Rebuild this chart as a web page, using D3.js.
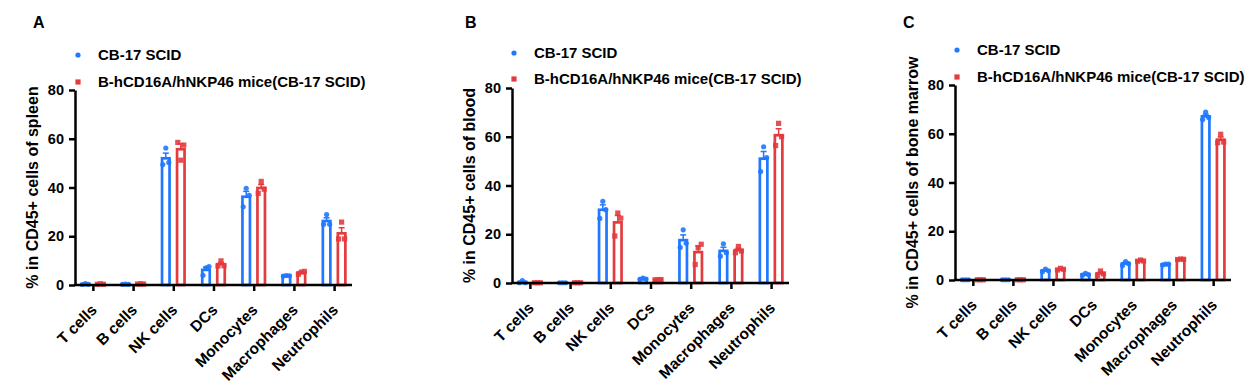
<!DOCTYPE html>
<html>
<head>
<meta charset="utf-8">
<script src="https://cdn.jsdelivr.net/npm/d3@7"></script>
<style>
  body { margin: 0; background: #fff; }
  svg text { font-family: Arial, "Liberation Sans", sans-serif; font-weight: bold; fill: #000; }
</style>
</head>
<body>
<div id="chart"></div>
<script>
var width = 1259
var height = 387

var categories = ["T cells", "B cells", "NK cells", "DCs", "Monocytes", "Macrophages", "Neutrophils"]
var groups = ["CB-17 SCID", "B-hCD16A/hNKP46 mice(CB-17 SCID)"]
var panelLetters = ["A", "B", "C"]
var yTitles = ["% in CD45+ cells of spleen", "% in CD45+ cells of blood", "% in CD45+ cells of bone marrow"]
var yTicks = [0, 20, 40, 60, 80]

// three mice per group, per cell type
var spleenScid = [[0.2, 0.6, 0.3], [0.3, 0.4, 0.3], [49.4, 56.2, 50.3], [4.0, 7.0, 7.6], [32.1, 39.7, 36.8], [3.7, 3.9, 3.8], [24.9, 28.9, 24.9]]
var spleenHum = [[0.3, 0.5, 0.3], [0.4, 0.5, 0.4], [58.5, 51.2, 57.4], [7.8, 9.9, 7.9], [37.6, 42.5, 39.3], [4.4, 5.3, 5.6], [18.9, 25.8, 18.9]]
var bloodScid = [[0.1, 1.0, 0.1], [0.1, 0.1, 0.1], [26.5, 33.5, 30.1], [1.5, 2.0, 1.6], [14.6, 21.8, 16.3], [11.0, 16.1, 12.4], [45.7, 55.9, 51.4]]
var bloodHum = [[0.1, 0.1, 0.1], [0.1, 0.1, 0.1], [19.3, 28.7, 26.6], [1.3, 1.4, 1.4], [7.6, 14.5, 15.9], [12.4, 15.0, 13.1], [56.4, 65.5, 60.0]]
var marrowScid = [[0.1, 0.1, 0.1], [0.1, 0.1, 0.1], [3.4, 4.5, 3.8], [2.0, 2.7, 2.2], [6.0, 7.6, 6.7], [6.2, 6.5, 6.5], [65.8, 68.9, 66.7]]
var marrowHum = [[0.1, 0.1, 0.1], [0.1, 0.1, 0.1], [4.1, 4.8, 4.4], [1.9, 3.7, 2.5], [7.7, 8.2, 7.8], [8.4, 8.6, 8.5], [56.3, 59.8, 56.6]]

var BLUE = "#1f78ff"
var RED = "#e33b3e"

// where each panel sits on the page
var layout = [
    {ax: 75,  top: 90, bottom: 285, right: 352,  letterX: 33,  legX: 78,  leg1: 55, leg2: 82, titleX: 38},
    {ax: 512, top: 88, bottom: 283, right: 789,  letterX: 465, legX: 514, leg1: 53, leg2: 79, titleX: 475},
    {ax: 955, top: 85, bottom: 280, right: 1231, letterX: 903, legX: 957, leg1: 50, leg2: 77, titleX: 918}
]

var panelData = [[spleenScid, spleenHum], [bloodScid, bloodHum], [marrowScid, marrowHum]]

var svg = d3.select("#chart")
    .append("svg")
    .attr("width", width)
    .attr("height", height)

function sem(v) {
    return d3.deviation(v) / Math.sqrt(v.length)
}

function drawPanel(i) {
    var L = layout[i]
    var g = svg.append("g")

    var x = d3.scalePoint()
        .domain(categories)
        .range([L.ax, L.right])
        .padding(0.445)

    var sub = d3.scaleBand()
        .domain(groups)
        .range([-15, 15])

    var y = d3.scaleLinear()
        .domain([0, 80])
        .range([L.bottom, L.top])

    var colors = [BLUE, RED]
    var jitter = [-3, 0, 3]
    var barW = 7.5

    panelData[i].forEach(function(series, s) {
        var gs = g.append("g")
        series.forEach(function(pts, c) {
            var cx = x(categories[c]) + sub(groups[s]) + sub.bandwidth() / 2
            var m = d3.mean(pts)
            var e = sem(pts)

            // error bar (upper half only)
            gs.append("line")
                .attr("x1", cx).attr("x2", cx)
                .attr("y1", y(m)).attr("y2", y(m + e))
                .attr("stroke", colors[s]).attr("stroke-width", 1.5)
            gs.append("line")
                .attr("x1", cx - 3).attr("x2", cx + 3)
                .attr("y1", y(m + e)).attr("y2", y(m + e))
                .attr("stroke", colors[s]).attr("stroke-width", 1.5)

            gs.append("rect")
                .attr("x", cx - barW / 2)
                .attr("y", y(m))
                .attr("width", barW)
                .attr("height", y(0) - y(m))
                .attr("fill", "none")
                .attr("stroke", colors[s])
                .attr("stroke-width", 2.7)

            pts.forEach(function(v, k) {
                if (s == 0) {
                    gs.append("circle")
                        .attr("cx", cx + jitter[k]).attr("cy", y(v)).attr("r", 2.6)
                        .attr("fill", colors[s]).attr("opacity", 0.9)
                } else {
                    gs.append("rect")
                        .attr("x", cx + jitter[k] - 2.6).attr("y", y(v) - 2.6)
                        .attr("width", 5.2).attr("height", 5.2)
                        .attr("fill", colors[s]).attr("opacity", 0.9)
                }
            })
        })
    })

    // axes
    var yAxis = g.append("g")
        .attr("transform", "translate(" + L.ax + ",0)")
        .call(d3.axisLeft(y).tickValues(yTicks).tickSize(6).tickSizeOuter(0).tickPadding(5))
    yAxis.select(".domain").attr("stroke-width", 2.5)
    yAxis.selectAll(".tick line").attr("stroke-width", 2.5)
    yAxis.selectAll(".tick text").style("font-size", "14.5px").style("font-weight", "bold")

    var xAxis = g.append("g")
        .attr("transform", "translate(0," + L.bottom + ")")
        .call(d3.axisBottom(x).tickSize(6).tickSizeOuter(0).tickFormat(""))
    xAxis.select(".domain").attr("d", "M" + (L.ax - 1) + ",0H" + L.right).attr("stroke-width", 2.5)
    xAxis.selectAll(".tick line").attr("stroke-width", 2.5)

    g.selectAll(".xlab")
        .data(categories)
        .enter()
        .append("text")
        .attr("class", "xlab")
        .attr("transform", function(d) { return "translate(" + (x(d) + 5) + "," + (L.bottom + 26) + ") rotate(-45)" })
        .attr("text-anchor", "end")
        .style("font-size", "15.5px")
        .text(function(d) { return d })

    // y title
    g.append("text")
        .attr("transform", "translate(" + L.titleX + "," + ((L.top + L.bottom) / 2) + ") rotate(-90)")
        .attr("text-anchor", "middle")
        .style("font-size", "16px")
        .text(yTitles[i])

    // panel letter
    g.append("text")
        .attr("x", L.letterX).attr("y", 28)
        .style("font-size", "16px")
        .text(panelLetters[i])

    // legend
    g.append("circle")
        .attr("cx", L.legX).attr("cy", L.leg1).attr("r", 2.6)
        .attr("fill", BLUE)
    g.append("rect")
        .attr("x", L.legX - 2.6).attr("y", L.leg2 - 2.6)
        .attr("width", 5.2).attr("height", 5.2)
        .attr("fill", RED)
    g.append("text")
        .attr("x", L.legX + 20).attr("y", L.leg1 + 5)
        .style("font-size", "15px")
        .text(groups[0])
    g.append("text")
        .attr("x", L.legX + 20).attr("y", L.leg2 + 5)
        .style("font-size", "15px")
        .text(groups[1])
}

panelLetters.forEach(function(d, i) { drawPanel(i) })
</script>
</body>
</html>
